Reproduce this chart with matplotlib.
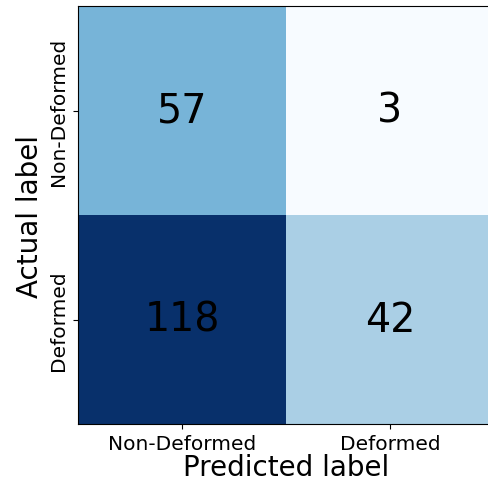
import matplotlib
matplotlib.use("Agg")
import matplotlib.pyplot as plt
import numpy as np

classes = ["Non-Deformed", "Deformed"]
row_nondeformed = [57, 3]
row_deformed = [118, 42]

cm = np.array([row_nondeformed, row_deformed])

fig = plt.figure(figsize=(4.88, 4.85), dpi=100)
ax = fig.add_axes([78/488, 60/485, 416/488, 418/485])
ax.imshow(cm, cmap="Blues", aspect="auto", interpolation="nearest")
for i in range(cm.shape[0]):
    for j in range(cm.shape[1]):
        ax.text(j, i, str(cm[i, j]), ha="center", va="center", fontsize=28.5, color="black")
ax.set_xticks(range(len(classes)))
ax.set_xticklabels(classes, fontsize=14.5)
ax.set_yticks(range(len(classes)))
ax.set_yticklabels(classes, fontsize=14.5, rotation=90, va="center")
ax.set_xlabel("Predicted label", fontsize=20, labelpad=0)
ax.set_ylabel("Actual label", fontsize=20, labelpad=4)
fig.savefig("out.png", dpi=100)
